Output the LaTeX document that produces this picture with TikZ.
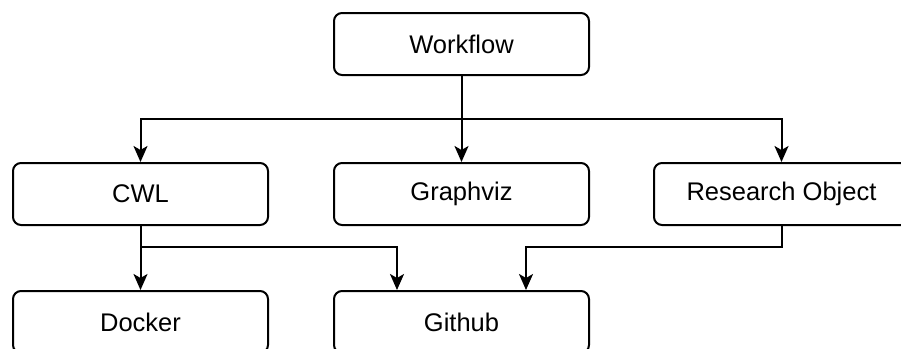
\documentclass[tikz,border=0pt]{standalone}
\usepackage{fontspec}
\setmainfont{Liberation Sans}
\usetikzlibrary{arrows.meta}
\begin{document}
\begin{tikzpicture}[x=1pt,y=-1pt,
  box/.style={draw=black, line width=2pt, rounded corners=8pt, fill=white,
    minimum width=255pt, minimum height=62pt, inner sep=0pt, anchor=north west,
    font=\fontsize{25.5}{30}\selectfont},
  conn/.style={line width=2pt, -{Stealth[width=14pt,length=16pt,inset=4pt]}}]
\useasboundingbox (0,0) rectangle (901,348);
\node[box] (wf) at (333,12) {Workflow};
\node[box] (cwl) at (12,162) {CWL};
\node[box] (gv) at (333,162) {Graphviz};
\node[box] (ro) at (653,162) {Research Object};
\node[box] (dk) at (12,290) {Docker};
\node[box] (gh) at (333,290) {Github};
\coordinate (gh1) at (397,290);
\coordinate (gh2) at (526,290);
\draw[conn] (wf.south) -- ++(0,43) -| (cwl.north);
\draw[conn] (wf.south) -- (gv.north);
\draw[conn] (wf.south) -- ++(0,43) -| (ro.north);
\draw[conn] (cwl.south) -- (dk.north);
\draw[conn] (cwl.south) -- ++(0,21) -| (gh1);
\draw[conn] (ro.south) -- ++(0,21) -| (gh2);
\end{tikzpicture}
\end{document}
